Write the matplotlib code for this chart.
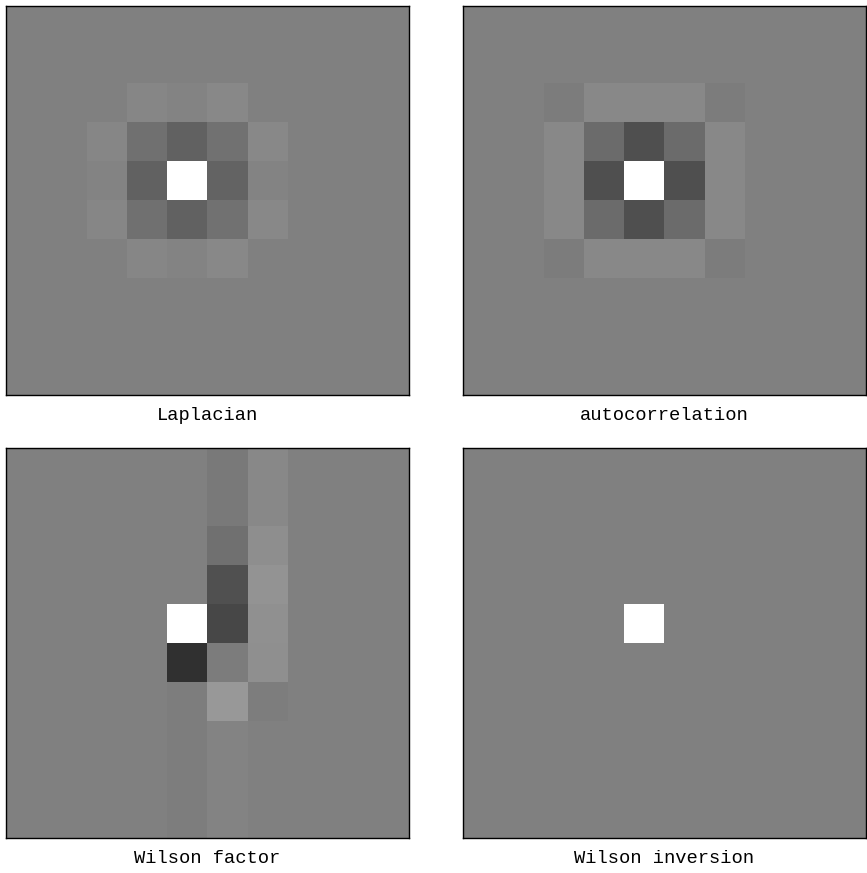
import numpy as np
import matplotlib
matplotlib.use("Agg")
import matplotlib.pyplot as plt

# 10x10 filter images, values in [-1, 1]; 0 is the grey background
laplacian = np.array([
    [0, 0, 0, 0, 0, 0, 0, 0, 0, 0],
    [0, 0, 0, 0, 0, 0, 0, 0, 0, 0],
    [0, 0, 0, 0.05, 0.035, 0.065, 0, 0, 0, 0],
    [0, 0, 0.05, -0.12, -0.23, -0.11, 0.065, 0, 0, 0],
    [0, 0, 0.035, -0.23, 1.0, -0.22, 0.035, 0, 0, 0],
    [0, 0, 0.05, -0.12, -0.24, -0.11, 0.065, 0, 0, 0],
    [0, 0, 0, 0.05, 0.035, 0.065, 0, 0, 0, 0],
    [0, 0, 0, 0, 0, 0, 0, 0, 0, 0],
    [0, 0, 0, 0, 0, 0, 0, 0, 0, 0],
    [0, 0, 0, 0, 0, 0, 0, 0, 0, 0],
])

autocorrelation = np.array([
    [0, 0, 0, 0, 0, 0, 0, 0, 0, 0],
    [0, 0, 0, 0, 0, 0, 0, 0, 0, 0],
    [0, 0, -0.025, 0.065, 0.065, 0.065, -0.025, 0, 0, 0],
    [0, 0, 0.065, -0.16, -0.38, -0.16, 0.065, 0, 0, 0],
    [0, 0, 0.065, -0.38, 1.0, -0.38, 0.065, 0, 0, 0],
    [0, 0, 0.065, -0.16, -0.38, -0.16, 0.065, 0, 0, 0],
    [0, 0, -0.025, 0.065, 0.065, 0.065, -0.025, 0, 0, 0],
    [0, 0, 0, 0, 0, 0, 0, 0, 0, 0],
    [0, 0, 0, 0, 0, 0, 0, 0, 0, 0],
    [0, 0, 0, 0, 0, 0, 0, 0, 0, 0],
])

wilson_factor = np.array([
    [0, 0, 0, 0, 0, -0.04, 0.07, 0, 0, 0],
    [0, 0, 0, 0, 0, -0.05, 0.07, 0, 0, 0],
    [0, 0, 0, 0, 0, -0.12, 0.11, 0, 0, 0],
    [0, 0, 0, 0, 0, -0.37, 0.16, 0, 0, 0],
    [0, 0, 0, 0, 1.0, -0.44, 0.13, 0, 0, 0],
    [0, 0, 0, 0, -0.62, -0.03, 0.12, 0, 0, 0],
    [0, 0, 0, 0, -0.02, 0.19, -0.02, 0, 0, 0],
    [0, 0, 0, 0, -0.02, 0.035, 0, 0, 0, 0],
    [0, 0, 0, 0, -0.02, 0.035, 0, 0, 0, 0],
    [0, 0, 0, 0, -0.02, 0.035, 0, 0, 0, 0],
])

wilson_inversion = np.zeros((10, 10))
wilson_inversion[4, 4] = 1.0

panels = [laplacian, autocorrelation, wilson_factor, wilson_inversion]
titles = ["Laplacian", "autocorrelation", "Wilson factor", "Wilson inversion"]

fig = plt.figure(figsize=(8.67, 8.73), dpi=100)
positions = [
    [0.0069, 0.5475, 0.4648, 0.4456],
    [0.534, 0.5475, 0.4648, 0.4456],
    [0.0069, 0.0401, 0.4648, 0.4467],
    [0.534, 0.0401, 0.4648, 0.4467],
]

for img, title, pos in zip(panels, titles, positions):
    ax = fig.add_axes(pos)
    ax.imshow(img, cmap="gray", vmin=-1, vmax=1, aspect="auto",
              interpolation="nearest")
    ax.set_xticks([])
    ax.set_yticks([])
    for s in ax.spines.values():
        s.set_linewidth(1.0)
        s.set_color("black")
    ax.text(0.5, -0.032, title, transform=ax.transAxes, ha="center", va="top",
            fontsize=13.5, family="Liberation Mono")

fig.savefig("out.png", dpi=100)
